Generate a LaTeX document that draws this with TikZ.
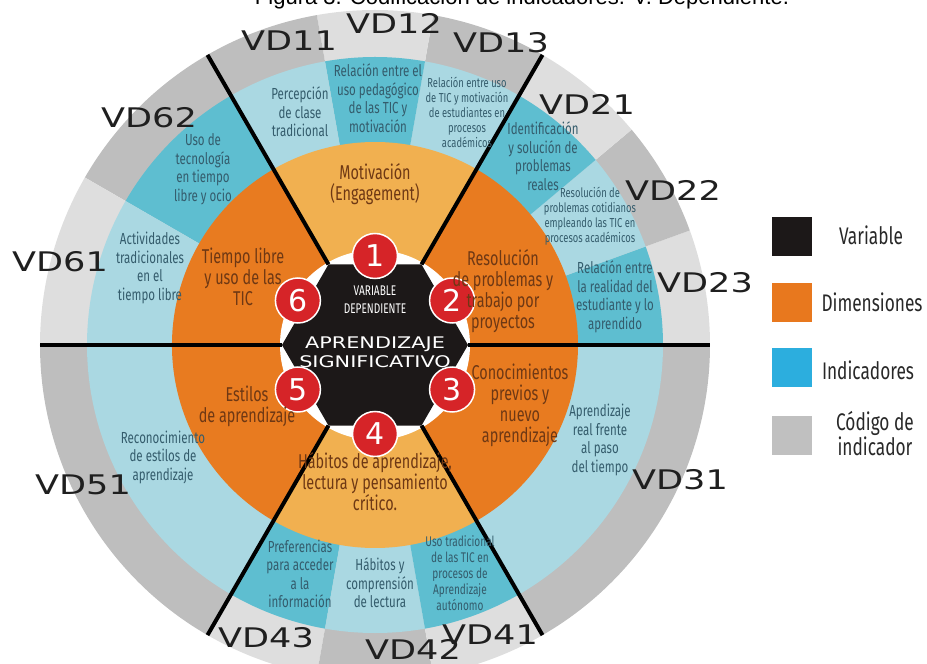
\documentclass[tikz,border=0pt]{standalone}
\usepackage{fontspec}
\setmainfont{Fira Sans}[FakeStretch=0.72]
\newfontfamily\codefont{DejaVu Sans}[FakeStretch=1.3]
\newfontfamily\numfont{DejaVu Sans}
\newfontfamily\titlefont{Liberation Sans}
\usepackage{tikz}
\usetikzlibrary{positioning}
\definecolor{codedark}{RGB}{190,190,190}
\definecolor{codelight}{RGB}{222,222,222}
\definecolor{inddark}{RGB}{94,190,208}
\definecolor{indlight}{RGB}{170,216,226}
\definecolor{dimdark}{RGB}{232,123,32}
\definecolor{dimlight}{RGB}{241,176,80}
\definecolor{varblack}{RGB}{28,24,24}
\definecolor{numred}{RGB}{214,36,40}
\definecolor{dimink}{RGB}{110,56,20}
\definecolor{indink}{RGB}{52,92,108}
\definecolor{legblue}{RGB}{44,174,222}
\definecolor{leggray}{RGB}{192,192,192}
\definecolor{legorange}{RGB}{232,120,30}
\definecolor{legink}{RGB}{40,40,40}
\tikzset{
  indlabel/.style={align=center, text=indink, inner sep=1pt, font=\fontsize{16}{18.5}\selectfont},
  indsmall/.style={indlabel, font=\fontsize{13}{15}\selectfont},
  dimlabel/.style={align=center, text=dimink, inner sep=1pt, font=\fontsize{20}{21}\selectfont},
  codelabel/.style={text=black!88, inner sep=0pt, font=\codefont\fontsize{27}{27}\selectfont},
  numdot/.style={circle, fill=numred, draw=white, line width=1.5pt, minimum size=45pt, inner sep=0pt,
    text=white, font=\numfont\fontsize{30}{30}\selectfont},
  legbox/.style={minimum width=40pt, minimum height=39pt, inner sep=0pt},
  leglabel/.style={align=center, text=legink, inner sep=0pt, font=\fontsize{24}{25}\selectfont}
}
\begin{document}
\begin{tikzpicture}[x=1pt,y=1pt]
  \useasboundingbox (-375,-319) rectangle (552,345);
  % title (cut by the page top)
  \node[anchor=base, font=\titlefont\fontsize{22}{22}\selectfont] (title) at (147,340)
    {Figura 3. Codificación de indicadores. V. Dependiente.};
  % ring of indicator codes
  \foreach \a/\b/\c in {0/20/codelight, 20/40/codedark, 40/60/codelight, 60/80/codedark,
      80/100/codelight, 100/120/codedark, 120/150/codedark, 150/180/codelight,
      180/240/codedark, 240/260/codelight, 260/280/codedark, 280/300/codelight, 300/360/codedark}
    \fill[\c] (0,0) -- (\a:335) arc[start angle=\a, end angle=\b, radius=335] -- cycle;
  % ring of indicators
  \foreach \a/\b/\c in {0/20/inddark, 20/40/indlight, 40/60/inddark, 60/80/indlight,
      80/100/inddark, 100/120/indlight, 120/150/inddark, 150/180/indlight,
      180/240/indlight, 240/260/inddark, 260/280/indlight, 280/300/inddark, 300/360/indlight}
    \fill[\c] (0,0) -- (\a:288) arc[start angle=\a, end angle=\b, radius=288] -- cycle;
  % dimensions
  \foreach \a/\b/\c in {0/60/dimdark, 60/120/dimlight, 120/240/dimdark, 240/300/dimlight, 300/360/dimdark}
    \fill[\c] (0,0) -- (\a:203) arc[start angle=\a, end angle=\b, radius=203] -- cycle;
  % variable
  \fill[white] (0,0) circle[radius=95];
  \fill[varblack] (0:93) -- (60:93) -- (120:93) -- (180:93) -- (240:93) -- (300:93) -- cycle;
  \foreach \a in {0,60,...,300}
    \draw[line width=4pt] (\a:93) -- (\a:335);
  \node[text=white, align=center, font=\fontsize{14}{18}\selectfont] (vartype) at (0,45) {VARIABLE\\DEPENDIENTE};
  \node[text=white, align=center, font=\codefont\fontsize{16}{19}\selectfont] (varname) at (0,-7) {APRENDIZAJE\\SIGNIFICATIVO};
  \foreach \n/\a in {1/90, 2/30, 3/-30, 4/-90, 5/210, 6/150}
    \node[numdot] (n\n) at (\a:89) {\n};
  % dimension labels
  \node[dimlabel] (dim1) at (0,161) {Motivación\\(Engagement)};
  \node[dimlabel] (dim2) at (128,54) {Resolución\\de problemas y\\trabajo por\\proyectos};
  \node[dimlabel] (dim3) at (145,-60) {Conocimientos\\previos y\\nuevo\\aprendizaje};
  \node[dimlabel] (dim4) at (0,-137) {Hábitos de aprendizaje,\\lectura y pensamiento\\crítico.};
  \node[dimlabel] (dim5) at (-128,-61) {Estilos\\de aprendizaje};
  \node[dimlabel] (dim6) at (-132,68) {Tiempo libre\\y uso de las\\TIC};
  % indicator labels
  \node[indlabel] (ind11) at (-75,233) {Percepción\\de clase\\tradicional};
  \node[indlabel] (ind12) at (3,247) {Relación entre el\\uso pedagógico\\de las TIC y\\motivación};
  \node[indsmall] (ind13) at (92,233) {Relación entre uso\\de TIC y motivación\\de estudiantes en\\procesos\\académicos};
  \node[indlabel] (ind21) at (168,189) {Identificación\\y solución de\\problemas\\reales};
  \node[indsmall] (ind22) at (215,129) {Resolución de\\problemas cotidianos\\empleando las TIC en\\procesos académicos};
  \node[indlabel] (ind23) at (240,48) {Relación entre\\la realidad del\\estudiante y lo\\aprendido};
  \node[indlabel] (ind31) at (225,-95) {Aprendizaje\\real frente\\al paso\\del tiempo};
  \node[indlabel, font=\fontsize{14}{16}\selectfont] (ind41) at (85,-228) {Uso tradicional\\de las TIC en\\procesos de\\Aprendizaje\\autónomo};
  \node[indlabel] (ind42) at (5,-238) {Hábitos y\\comprensión\\de lectura};
  \node[indlabel] (ind43) at (-75,-229) {Preferencias\\para acceder\\a la\\información};
  \node[indlabel] (ind51) at (-212,-112) {Reconocimiento\\de estilos de\\aprendizaje};
  \node[indlabel] (ind61) at (-225,77) {Actividades\\tradicionales\\en el\\tiempo libre};
  \node[indlabel] (ind62) at (-172,176) {Uso de\\tecnología\\en tiempo\\libre y ocio};
  % indicator codes
  \foreach \n/\x/\y in {11/-86/304, 12/19/322, 13/126/302, 21/212/241, 22/298/155, 23/330/62,
      31/305/-135, 41/115/-290, 42/38/-304, 43/-109/-293, 51/-292/-140, 61/-315/83, 62/-226/227}
    \node[codelabel] (vd\n) at (\x,\y) {VD\n};
  % legend
  \node[legbox, fill=varblack] (legvar) at (417,108) {};
  \node[legbox, fill=legorange, below=26pt of legvar] (legdim) {};
  \node[legbox, fill=legblue, below=26pt of legdim] (legind) {};
  \node[legbox, fill=leggray, below=28pt of legind] (legcode) {};
  \node[leglabel] (txtvar) at (496,110) {Variable};
  \node[leglabel] (txtdim) at (497,43) {Dimensiones};
  \node[leglabel] (txtind) at (493,-25) {Indicadores};
  \node[leglabel] (txtcode) at (500,-89) {Código de\\indicador};
\end{tikzpicture}
\end{document}
